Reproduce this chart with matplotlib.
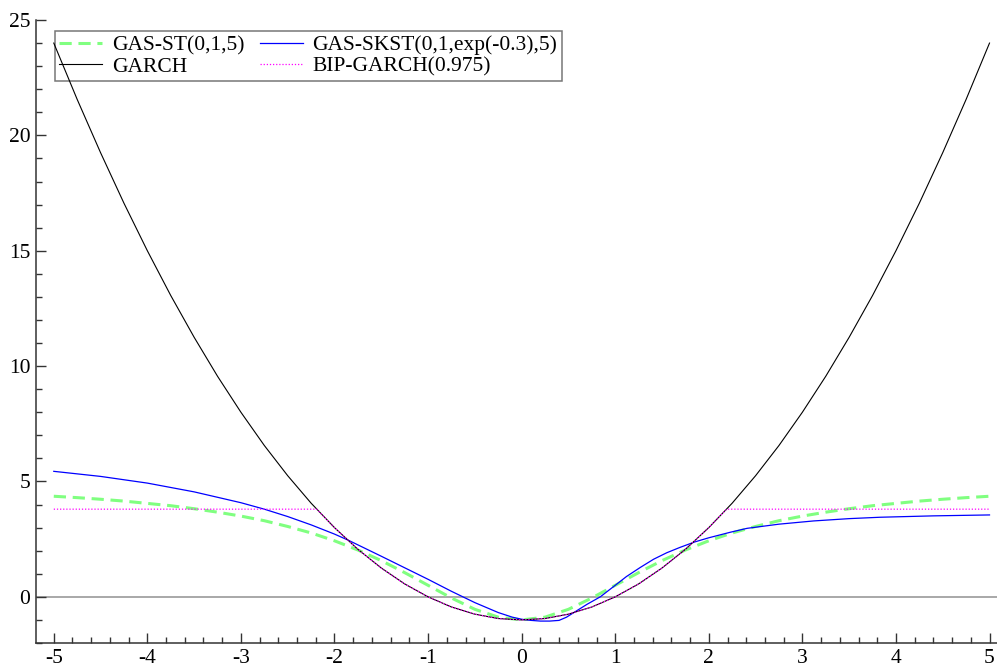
import matplotlib
matplotlib.use("Agg")
import matplotlib.pyplot as plt
from matplotlib.ticker import MultipleLocator

plt.rcParams["font.family"] = ["Liberation Serif", "DejaVu Serif"]
plt.rcParams["axes.unicode_minus"] = False

# news impact curves
x_grid = [-5.0, -4.75, -4.5, -4.25, -4.0, -3.75, -3.5, -3.25, -3.0, -2.75,
          -2.5, -2.25, -2.0, -1.75, -1.5, -1.25, -1.0, -0.75, -0.5, -0.25,
          0.0, 0.25, 0.5, 0.75, 1.0, 1.25, 1.5, 1.75, 2.0, 2.25,
          2.5, 2.75, 3.0, 3.25, 3.5, 3.75, 4.0, 4.25, 4.5, 4.75, 5.0]

garch = [24.0, 21.56, 19.25, 17.06, 15.0, 13.06, 11.25, 9.56, 8.0, 6.56,
         5.25, 4.06, 3.0, 2.06, 1.25, 0.56, 0.0, -0.44, -0.75, -0.94,
         -1.0, -0.94, -0.75, -0.44, 0.0, 0.56, 1.25, 2.06, 3.0, 4.06,
         5.25, 6.56, 8.0, 9.56, 11.25, 13.06, 15.0, 17.06, 19.25, 21.56, 24.0]

gas_st = [4.36, 4.30, 4.23, 4.15, 4.05, 3.95, 3.82, 3.67, 3.50, 3.30,
          3.05, 2.77, 2.43, 2.03, 1.57, 1.05, 0.50, -0.05, -0.54, -0.88,
          -1.0, -0.88, -0.54, -0.05, 0.50, 1.05, 1.57, 2.03, 2.43, 2.77,
          3.05, 3.30, 3.50, 3.67, 3.82, 3.95, 4.05, 4.15, 4.23, 4.30, 4.36]

x_skst = [-5.0, -4.5, -4.0, -3.5, -3.0, -2.75, -2.5, -2.25, -2.0, -1.85,
          -1.5, -1.25, -1.0, -0.75, -0.5, -0.25, -0.1, 0.0, 0.1, 0.2,
          0.3, 0.4, 0.48, 0.55, 0.7, 0.84, 1.0, 1.12, 1.27, 1.41,
          1.55, 1.69, 1.85, 2.0, 2.23, 2.41, 2.75, 3.12, 3.5, 3.83,
          4.4, 5.0]
gas_skst = [5.44, 5.22, 4.93, 4.55, 4.08, 3.80, 3.48, 3.12, 2.72, 2.45,
            1.76, 1.26, 0.76, 0.24, -0.25, -0.68, -0.88, -0.97, -1.02, -1.05,
            -1.05, -1.02, -0.88, -0.70, -0.32, 0.0, 0.50, 0.88, 1.28, 1.63,
            1.91, 2.14, 2.38, 2.56, 2.80, 2.97, 3.15, 3.29, 3.39, 3.45,
            3.51, 3.55]

x_bip = [-5.0, -2.19, -2.0, -1.75, -1.5, -1.25, -1.0, -0.75, -0.5, -0.25,
         0.0, 0.25, 0.5, 0.75, 1.0, 1.25, 1.5, 1.75, 2.0, 2.19, 5.0]
bip = [3.80, 3.80, 3.0, 2.06, 1.25, 0.56, 0.0, -0.44, -0.75, -0.94,
       -1.0, -0.94, -0.75, -0.44, 0.0, 0.56, 1.25, 2.06, 3.0, 3.80, 3.80]

fig = plt.figure(figsize=(9.97, 6.70), dpi=100)
ax = fig.add_axes([36 / 997, 27 / 670, 961 / 997, 623 / 670])

ax.axhline(0, color="#999999", lw=1.2, zorder=1)

l_st, = ax.plot(x_grid, gas_st, color="#80ff80", lw=2.2, ls=(0, (4, 2.2)),
                label="GAS-ST(0,1,5)", zorder=2)
l_skst, = ax.plot(x_skst, gas_skst, color="#0000ff", lw=0.9,
                  label="GAS-SKST(0,1,exp(-0.3),5)", zorder=3)
l_garch, = ax.plot(x_grid, garch, color="black", lw=0.8,
                   label="GARCH", zorder=4)
l_bip, = ax.plot(x_bip, bip, color="#ff00ff", lw=0.9, ls=(0, (1, 1.5)),
                 label="BIP-GARCH(0.975)", zorder=5)

ax.set_xlim(-5.19, 5.08)
ax.set_ylim(-2, 25)

for side in ["top", "right"]:
    ax.spines[side].set_visible(False)
for side in ["left", "bottom"]:
    ax.spines[side].set_color("#333333")
    ax.spines[side].set_linewidth(1.1)

ax.xaxis.set_major_locator(MultipleLocator(1))
ax.xaxis.set_minor_locator(MultipleLocator(0.2))
ax.yaxis.set_major_locator(MultipleLocator(5))
ax.yaxis.set_minor_locator(MultipleLocator(1))
ax.tick_params(which="both", direction="in", color="#333333", width=1.0,
               labelsize=15.5, pad=4)
ax.tick_params(which="major", length=7)
ax.tick_params(which="minor", length=4)

# legend box is see-through, the GARCH line shows inside it
leg = ax.legend([l_st, l_garch, l_skst, l_bip],
                [l_st.get_label(), l_garch.get_label(),
                 l_skst.get_label(), l_bip.get_label()],
                ncol=2, loc="upper left",
                bbox_to_anchor=(55 / 997, 1 - 31 / 670),
                bbox_transform=fig.transFigure, borderaxespad=0,
                fontsize=15.5, fancybox=False,
                edgecolor="#555555", handlelength=2.0, handletextpad=0.45,
                columnspacing=0.7, labelspacing=0.05, borderpad=0.2)
leg.get_frame().set_linewidth(1.1)
leg.get_frame().set_facecolor("none")
leg.set_zorder(1.5)

fig.savefig("out.png", dpi=100)
